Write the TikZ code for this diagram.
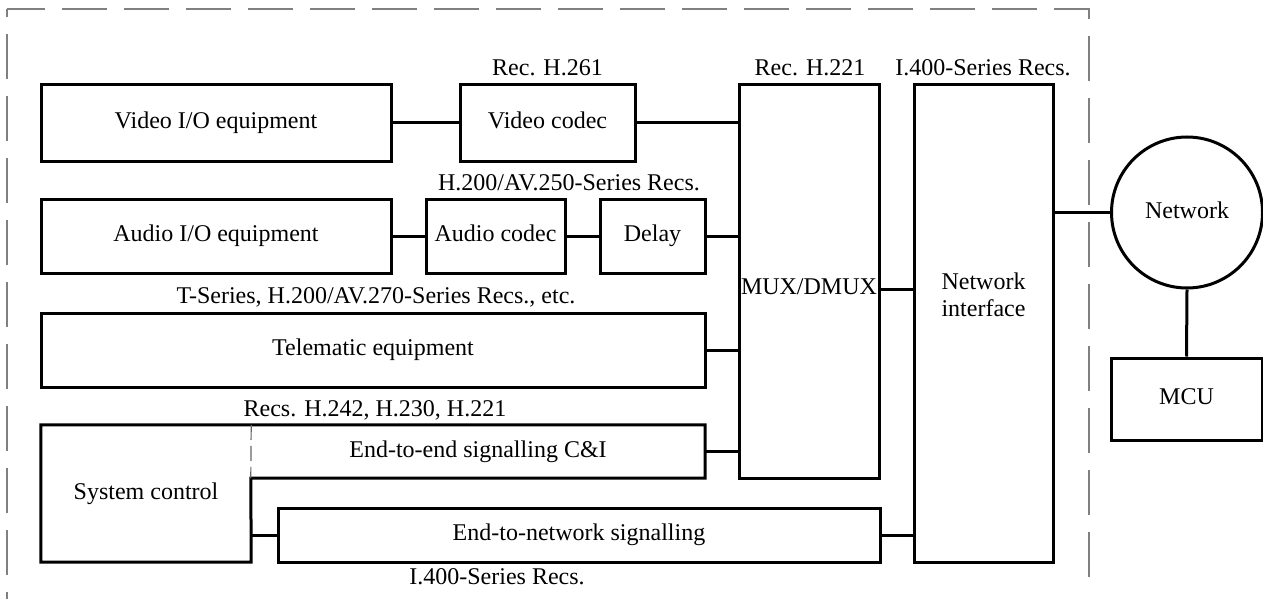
\documentclass[tikz,border=0pt]{standalone}
\usepackage{fontspec}
\setmainfont{Liberation Serif}
\begin{document}
\begin{tikzpicture}[x=1pt,y=-1pt,
  every node/.style={font=\fontsize{24}{27}\selectfont},
  blk/.style={draw, line width=3pt, inner sep=0pt, align=center, text height=16pt, text depth=5pt},
  area/.style={inner sep=0pt, align=center},
  conn/.style={line width=3pt},
  lbl/.style={inner sep=0pt, anchor=base},
  frame/.style={draw=gray, line width=1.5pt, dash pattern=on 45pt off 17pt},
  divider/.style={draw=gray!80!black, line width=1.2pt, dash pattern=on 15pt off 6pt}]
\useasboundingbox (0,0) rectangle (1263,599);
% outer dashed frame
\draw[frame, dash phase=7pt] (7,9) -- (1089,9) -- (1089,592);
\draw[frame, dash phase=37pt] (7,9) -- (7,599);
% boxes
\node[blk, minimum width=350, minimum height=76] (vio) at (216,123) {Video I/O equipment};
\node[blk, minimum width=175, minimum height=76] (vcodec) at (547.5,123) {Video codec};
\node[blk, minimum width=140, minimum height=393] (mux) at (809,281.5) {};
\node[area] (muxtxt) at (809,287) {MUX/DMUX};
\node[blk, minimum width=139, minimum height=477] (ni) at (983.5,323.5) {};
\node[area] (nitxt) at (983.5,295) {Network\\interface};
\node[blk, minimum width=350, minimum height=74] (aio) at (216,236) {Audio I/O equipment};
\node[blk, minimum width=139, minimum height=74] (acodec) at (495.5,236) {Audio codec};
\node[blk, minimum width=105, minimum height=74] (delay) at (652.5,236) {Delay};
\node[blk, minimum width=664, minimum height=74] (tele) at (373,350) {Telematic equipment};
\node[area, text height=16pt, text depth=5pt, minimum width=210, minimum height=137] (sys) at (146,493.5) {System control};
\node[area, text height=16pt, text depth=5pt, minimum width=454, minimum height=53] (e2e) at (478,451.5) {End-to-end signalling C\&I};
\node[blk, minimum width=602, minimum height=54] (e2n) at (579,535) {End-to-network signalling};
\node[blk, circle, minimum size=151] (net) at (1187,212.5) {Network};
\node[blk, minimum width=151, minimum height=82] (mcu) at (1186.5,399) {MCU};
% system control / end-to-end outline
\draw[conn] (sys.north west) -- (e2e.north east) -- (e2e.south east) -- (e2e.south west)
  -- (sys.south east) -- (sys.south west) -- cycle;
\draw[divider] (sys.north east) -- (e2e.south west);
% labels
\node[lbl] (l261) at (547.5,76) {Rec. H.261};
\node[lbl] (l221) at (810,76) {Rec. H.221};
\node[lbl] (l400t) at (983,76) {I.400-Series Recs.};
\node[lbl] (l250) at (569,190) {H.200/AV.250-Series Recs.};
\node[lbl] (l270) at (376,303) {T-Series, H.200/AV.270-Series Recs., etc.};
\node[lbl] (l242) at (375,416) {Recs. H.242, H.230, H.221};
\node[lbl] (l400b) at (497,584) {I.400-Series Recs.};
% connectors
\draw[conn] (vio.east) -- (vcodec.west);
\draw[conn] (vcodec.east) -- (vcodec.east -| mux.west);
\draw[conn] (aio.east) -- (acodec.west);
\draw[conn] (acodec.east) -- (delay.west);
\draw[conn] (delay.east) -- (delay.east -| mux.west);
\draw[conn] (tele.east) -- (tele.east -| mux.west);
\draw[conn] (e2e.east) -- (e2e.east -| mux.west);
\draw[conn] ([yshift=-7.5pt]mux.east) -- ([yshift=-7.5pt]mux.east -| ni.west);
\draw[conn] (e2n.west) -- (e2n.west -| sys.east);
\draw[conn] (e2n.east) -- (e2n.east -| ni.west);
\draw[conn] (net.west) -- (net.west -| ni.east);
\draw[conn] (net.south) -- (mcu.north);
\end{tikzpicture}
\end{document}
